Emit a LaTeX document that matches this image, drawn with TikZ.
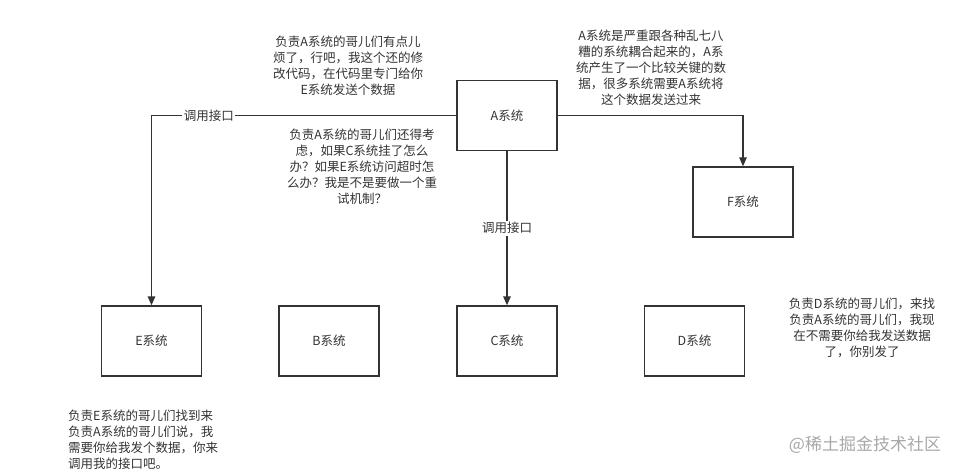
\documentclass[tikz,border=0pt]{standalone}
\usepackage{fontspec}
\setmainfont{Noto Sans CJK SC}
\usetikzlibrary{arrows.meta}
\definecolor{ink}{HTML}{333333}
\definecolor{wm}{HTML}{A8A8A8}
\tikzset{
  sysbox/.style={draw=ink, line width=1.4pt, minimum width=100pt, minimum height=70pt, inner sep=0pt, text=ink, font=\fontsize{12.5}{16}\selectfont},
  note/.style={text=ink, font=\fontsize{12.5}{16}\selectfont, inner sep=0pt},
  conn/.style={draw=ink, line width=1.4pt, -{Triangle[length=9pt,width=7.5pt]}},
  lbl/.style={fill=white, text=ink, font=\fontsize{12.5}{16}\selectfont, inner sep=1.5pt},
}
\begin{document}
\begin{tikzpicture}[x=1pt,y=-1pt]
\useasboundingbox (0,0) rectangle (964,475);
\node[sysbox] (A) at (507,115.5) {A系统};
\node[sysbox] (E) at (151.5,341) {E系统};
\node[sysbox] (B) at (329,341) {B系统};
\node[sysbox] (C) at (507,341) {C系统};
\node[sysbox] (D) at (694.5,341) {D系统};
\node[sysbox] (F) at (743,202) {F系统};

\draw[conn] (A.west) -| node[lbl, pos=0.406] {调用接口} (E.north);
\draw[conn] (A.east) -| (F.north);
\draw[conn] (A.south) -- node[lbl, pos=0.5] {调用接口} (C.north);

\node[note, align=center] (t1) at (348,66) {负责A系统的哥儿们有点儿\\烦了，行吧，我这个还的修\\改代码，在代码里专门给你\\E系统发送个数据};
\node[note, align=center] (t2) at (362,167) {负责A系统的哥儿们还得考\\虑，如果C系统挂了怎么\\办？如果E系统访问超时怎\\么办？我是不是要做一个重\\试机制？};
\node[note, align=center] (t3) at (651,67.5) {A系统是严重跟各种乱七八\\糟的系统耦合起来的，A系\\统产生了一个比较关键的数\\据，很多系统需要A系统将\\这个数据发送过来};
\node[note, align=center] (t4) at (862,327.5) {负责D系统的哥儿们，来找\\负责A系统的哥儿们，我现\\在不需要你给我发送数据\\了，你别发了};
\node[note, align=left, anchor=west] (t5) at (68,440) {负责E系统的哥儿们找到来\\负责A系统的哥儿们说，我\\需要你给我发个数据，你来\\调用我的接口吧。};
\node[text=wm, font=\fontsize{17}{20}\selectfont, inner sep=0pt] (wmk) at (865,445) {@稀土掘金技术社区};
\end{tikzpicture}
\end{document}
